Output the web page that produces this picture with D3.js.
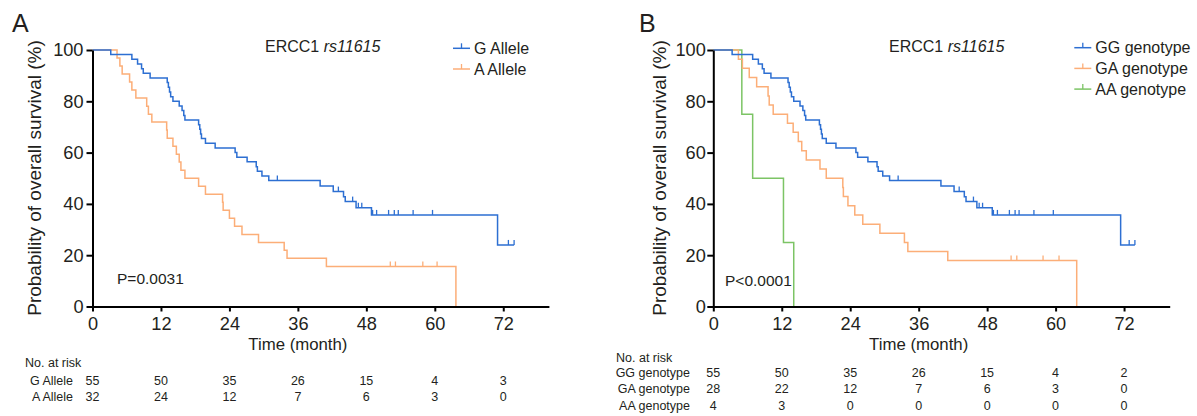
<!DOCTYPE html>
<html>
<head>
<meta charset="utf-8">
<script src="https://cdn.jsdelivr.net/npm/d3@7"></script>
<style>
body{margin:0;background:#fff}
svg text{font-family:"Liberation Sans",Arial,Helvetica,sans-serif;fill:#231f20}
</style>
</head>
<body>
<svg id="chart" width="1197" height="416"></svg>
<script>
const timeTicks = [0, 12, 24, 36, 48, 60, 72];
const survTicks = [0, 20, 40, 60, 80, 100];

// Panel A - allele model, [month, survival %] after each event
const gAllele = [[0,100],[3.2,98.2],[6.9,96.4],[7.9,94.5],[8.6,92.7],[8.9,90.9],[10.1,89.1],
  [13.1,87.3],[13.3,85.5],[13.5,83.6],[13.7,81.8],[14.1,80.0],[15.2,78.2],[15.7,76.4],[16.0,74.5],[16.2,72.7],
  [18.6,70.9],[18.8,69.1],[18.95,67.3],[19.1,65.5],[19.8,63.6],[21.5,61.8],[25.0,60.0],[25.3,58.2],
  [27.1,56.4],[28.7,54.5],[28.9,52.7],[29.7,50.9],[30.9,49.1],[39.9,47.0],[42.2,44.8],[44.0,42.8],
  [44.3,40.9],[46.2,38.5],[48.9,35.7],[71.0,24.0]];
const gAlleleCensor = [32.4,43.1,45.6,46.6,47.2,49.1,49.8,51.9,52.9,53.6,56.2,59.6,72.9,73.9];
const gAlleleEnd = 73.9;

const aAllele = [[0,100],[4.3,96.9],[4.8,93.8],[5.2,90.6],[6.5,87.5],[6.9,84.4],[7.6,81.3],[9.5,78.1],
  [9.8,75.0],[10.4,71.9],[13.0,68.8],[13.1,65.6],[14.1,62.5],[14.7,59.4],[15.2,56.3],[15.5,53.1],
  [16.2,50.0],[18.6,46.9],[19.8,43.8],[22.8,40.6],[22.9,37.5],[24.0,34.4],[24.9,31.3],[26.2,28.1],
  [29.1,25.0],[33.6,21.9],[34.1,18.8],[41.0,15.6],[63.7,0]];
const aAlleleCensor = [52.2,53.1,57.9,60.4];
const aAlleleEnd = 63.7;

// Panel B - genotype model
const ggGenotype = [[0,100],[3.3,98.2],[6.9,96.4],[7.9,94.5],[8.6,92.7],[8.9,90.9],[10.1,89.1],
  [13.1,87.3],[13.3,85.5],[13.5,83.6],[13.7,81.8],[14.1,80.0],[15.2,78.2],[15.7,76.4],[16.0,74.5],[16.2,72.7],
  [18.6,70.9],[18.8,69.1],[18.95,67.3],[19.1,65.5],[19.8,63.6],[21.5,61.8],[25.0,60.0],[25.3,58.2],
  [27.1,56.4],[28.7,54.5],[28.9,52.7],[29.7,50.9],[30.9,49.1],[39.9,47.0],[42.2,44.8],[44.0,42.8],
  [44.3,40.9],[46.2,38.5],[48.9,35.7],[71.4,24.0]];
const ggCensor = [32.4,43.1,45.6,46.6,47.2,49.1,49.8,51.9,52.9,53.6,56.2,59.6,72.9,73.9];
const ggEnd = 73.9;

const gaGenotype = [[0,100],[4.4,96.4],[5.1,92.9],[6.3,89.3],[7.6,85.7],[9.6,82.1],[9.8,78.6],[10.5,75.0],
  [13.0,71.4],[14.0,67.9],[14.9,64.3],[15.5,60.7],[16.3,57.1],[18.7,53.6],[19.8,50.0],[22.7,46.4],
  [22.8,42.9],[23.6,39.3],[24.8,35.7],[26.2,32.1],[29.2,28.6],[33.5,25.0],[34.1,21.4],[41.1,17.9],[63.7,0]];
const gaCensor = [52.2,53.2,57.8,60.6];
const gaEnd = 63.7;

const aaGenotype = [[0,100],[5.0,75],[6.9,50],[12.3,25],[14.1,0]];
const aaCensor = [];
const aaEnd = 14.1;

// numbers at risk
const riskG = [55,50,35,26,15,4,3];
const riskA = [32,24,12,7,6,3,0];
const riskGG = [55,50,35,26,15,4,2];
const riskGA = [28,22,12,7,6,3,0];
const riskAA = [4,3,0,0,0,0,0];

const BLUE = "#2d6fd2", ORANGE = "#fcae78", GREEN = "#7cc465";

const svg = d3.select("#chart");

function survAt(steps, t){
    let s = steps[0][1];
    steps.forEach(d => { if (d[0] <= t) s = d[1]; });
    return s;
}

function drawPanel(cfg){
    const g = svg.append("g");
    const x = d3.scaleLinear().domain([0, 80]).range([cfg.x0, cfg.x0 + 80 * 5.705]);
    const y = d3.scaleLinear().domain([0, 100]).range([306.5, 50]);

    g.append("text").attr("x", cfg.letterX).attr("y", 32).attr("font-size", 25).text(cfg.letter);

    // curves, first series on top
    const line = d3.line().x(d => x(d[0])).y(d => y(d[1])).curve(d3.curveStepAfter);
    cfg.series.slice().reverse().forEach(s => {
        const pts = s.steps.concat([[s.end, s.steps[s.steps.length - 1][1]]]);
        g.append("path").datum(pts)
            .attr("d", line)
            .attr("fill", "none")
            .attr("stroke", s.color)
            .attr("stroke-width", 1.5);
        g.append("g").selectAll("line")
            .data(s.censor)
            .join("line")
            .attr("x1", d => x(d)).attr("x2", d => x(d))
            .attr("y1", d => y(survAt(s.steps, d)))
            .attr("y2", d => y(survAt(s.steps, d)) - 5)
            .attr("stroke", s.color)
            .attr("stroke-width", 1.3);
    });

    // axes
    const yAxis = g.append("g")
        .attr("transform", `translate(${cfg.x0},0)`)
        .call(d3.axisLeft(y).tickValues(survTicks).tickSize(6).tickSizeOuter(0).tickPadding(cfg.yPad));
    const xAxis = g.append("g")
        .attr("transform", "translate(0,306.5)")
        .call(d3.axisBottom(x).tickValues(timeTicks).tickSize(5).tickSizeOuter(0).tickPadding(6));
    [yAxis, xAxis].forEach(a => {
        a.attr("font-family", null).attr("font-size", 18.2);
        a.selectAll("path, line").attr("stroke", "#000").attr("stroke-width", 2);
        a.selectAll("text").attr("fill", "#231f20");
    });

    g.append("text")
        .attr("x", x(36)).attr("y", 350)
        .attr("text-anchor", "middle").attr("font-size", 16.8)
        .text("Time (month)");
    g.append("text")
        .attr("transform", `translate(${cfg.yTitleX},178) rotate(-90)`)
        .attr("text-anchor", "middle").attr("font-size", 19)
        .text("Probability of overall survival (%)");

    // title
    const t = g.append("text").attr("x", cfg.titleX).attr("y", 52).attr("font-size", 16);
    t.append("tspan").text("ERCC1 ");
    t.append("tspan").attr("font-style", "italic").text("rs11615");

    g.append("text").attr("x", cfg.pX).attr("y", cfg.pY).attr("font-size", 15.5).text(cfg.pText);

    // legend
    cfg.series.forEach((s, i) => {
        const ly = cfg.legY + i * 20.7;
        g.append("line").attr("x1", cfg.legX).attr("x2", cfg.legX + 17)
            .attr("y1", ly).attr("y2", ly).attr("stroke", s.color).attr("stroke-width", 1.5);
        g.append("line").attr("x1", cfg.legX + 8.5).attr("x2", cfg.legX + 8.5)
            .attr("y1", ly).attr("y2", ly - 5).attr("stroke", s.color).attr("stroke-width", 1.3);
        g.append("text").attr("x", cfg.legX + 21).attr("y", ly + 5.5)
            .attr("font-size", 16).text(s.name);
    });

    // numbers at risk
    g.append("text").attr("x", cfg.noX).attr("y", cfg.noY).attr("font-size", 12.5).text("No. at risk");
    cfg.series.forEach((s, i) => {
        const ry = cfg.riskY + i * cfg.riskH;
        g.append("text").attr("x", cfg.riskLabelX).attr("y", ry)
            .attr("text-anchor", "end").attr("font-size", 12.5).text(s.name);
        g.append("g").selectAll("text")
            .data(s.risk)
            .join("text")
            .attr("x", (d, j) => x(timeTicks[j]))
            .attr("y", ry)
            .attr("text-anchor", "middle")
            .attr("font-size", 12.5)
            .text(d => d);
    });
}

drawPanel({
    letter: "A", letterX: 12, x0: 92.5, yPad: 3, yTitleX: 41,
    titleX: 265, pText: "P=0.0031", pX: 117, pY: 284,
    legX: 453, legY: 48.3,
    noX: 25, noY: 367, riskY: 385, riskH: 15.5, riskLabelX: 73,
    series: [
        {name: "G Allele", steps: gAllele, censor: gAlleleCensor, end: gAlleleEnd, color: BLUE, risk: riskG},
        {name: "A Allele", steps: aAllele, censor: aAlleleCensor, end: aAlleleEnd, color: ORANGE, risk: riskA}
    ]
});

drawPanel({
    letter: "B", letterX: 639, x0: 713.3, yPad: 1.5, yTitleX: 666,
    titleX: 889, pText: "P<0.0001", pX: 725, pY: 286,
    legX: 1074.3, legY: 47.7,
    noX: 616, noY: 362, riskY: 377, riskH: 16.3, riskLabelX: 690,
    series: [
        {name: "GG genotype", steps: ggGenotype, censor: ggCensor, end: ggEnd, color: BLUE, risk: riskGG},
        {name: "GA genotype", steps: gaGenotype, censor: gaCensor, end: gaEnd, color: ORANGE, risk: riskGA},
        {name: "AA genotype", steps: aaGenotype, censor: aaCensor, end: aaEnd, color: GREEN, risk: riskAA}
    ]
});
</script>
</body>
</html>
